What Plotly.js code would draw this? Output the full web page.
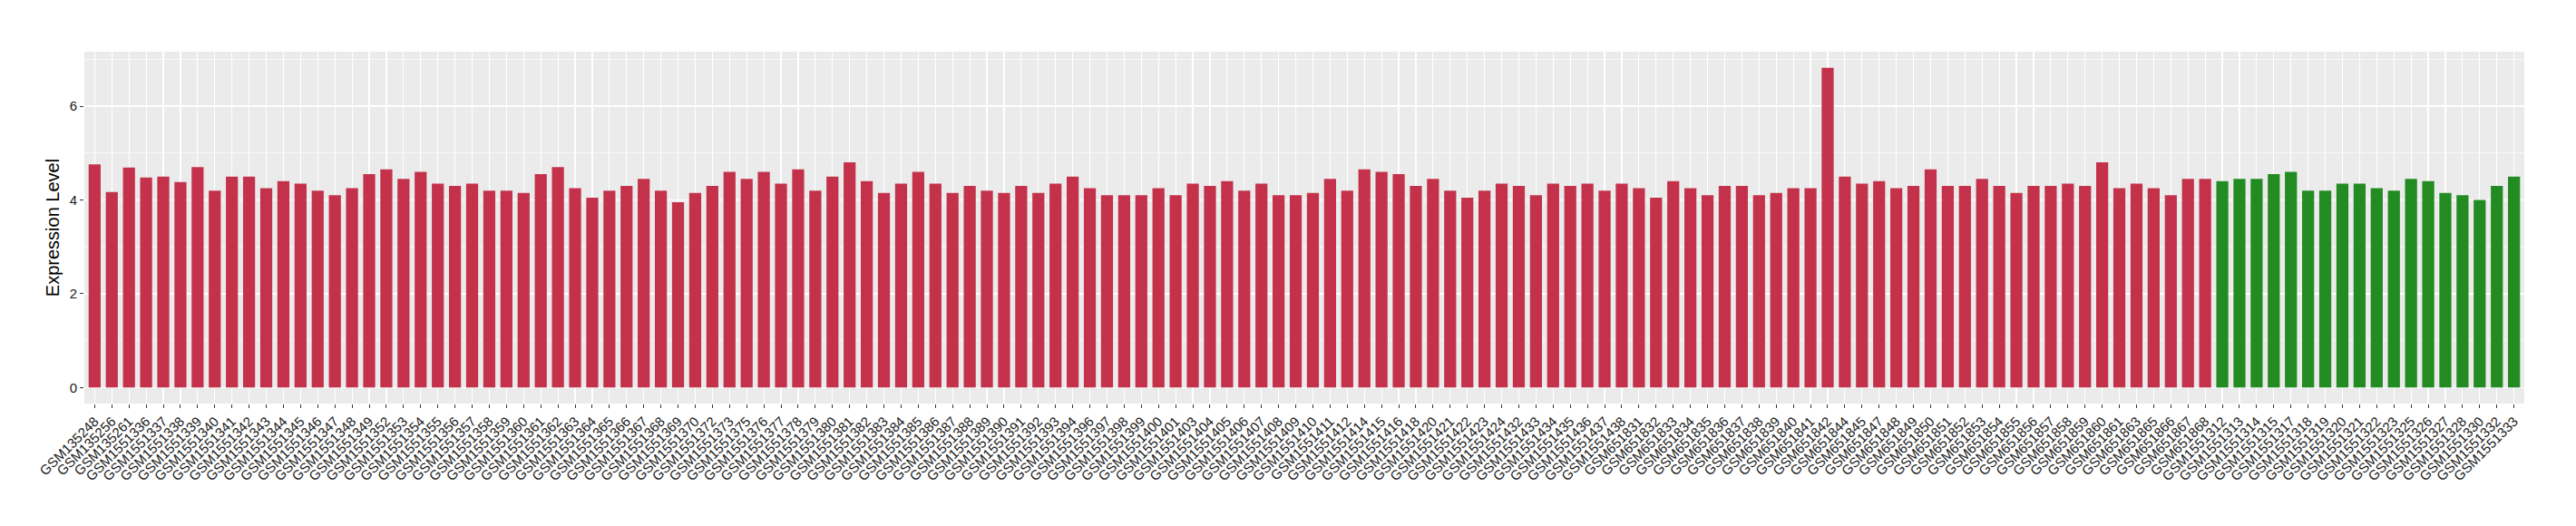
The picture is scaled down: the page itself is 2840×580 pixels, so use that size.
<!DOCTYPE html>
<html>
<head>
<meta charset="utf-8">
<script src="https://cdn.plot.ly/plotly-3.0.1.min.js"></script>
<style>html,body{margin:0;padding:0;background:#fff;}#chart{width:2840px;height:580px;}</style>
</head>
<body>
<div id="chart"></div>
<script>
const samples = [
"GSM135248","GSM135256","GSM135261","GSM1551336","GSM1551337","GSM1551338","GSM1551339","GSM1551340","GSM1551341","GSM1551342",
"GSM1551343","GSM1551344","GSM1551345","GSM1551346","GSM1551347","GSM1551348","GSM1551349","GSM1551352","GSM1551353","GSM1551354",
"GSM1551355","GSM1551356","GSM1551357","GSM1551358","GSM1551359","GSM1551360","GSM1551361","GSM1551362","GSM1551363","GSM1551364",
"GSM1551365","GSM1551366","GSM1551367","GSM1551368","GSM1551369","GSM1551370","GSM1551372","GSM1551373","GSM1551375","GSM1551376",
"GSM1551377","GSM1551378","GSM1551379","GSM1551380","GSM1551381","GSM1551382","GSM1551383","GSM1551384","GSM1551385","GSM1551386",
"GSM1551387","GSM1551388","GSM1551389","GSM1551390","GSM1551391","GSM1551392","GSM1551393","GSM1551394","GSM1551396","GSM1551397",
"GSM1551398","GSM1551399","GSM1551400","GSM1551401","GSM1551403","GSM1551404","GSM1551405","GSM1551406","GSM1551407","GSM1551408",
"GSM1551409","GSM1551410","GSM1551411","GSM1551412","GSM1551414","GSM1551415","GSM1551416","GSM1551418","GSM1551420","GSM1551421",
"GSM1551422","GSM1551423","GSM1551424","GSM1551432","GSM1551433","GSM1551434","GSM1551435","GSM1551436","GSM1551437","GSM1551438",
"GSM651831","GSM651832","GSM651833","GSM651834","GSM651835","GSM651836","GSM651837","GSM651838","GSM651839","GSM651840",
"GSM651841","GSM651842","GSM651844","GSM651845","GSM651847","GSM651848","GSM651849","GSM651850","GSM651851","GSM651852",
"GSM651853","GSM651854","GSM651855","GSM651856","GSM651857","GSM651858","GSM651859","GSM651860","GSM651861","GSM651863",
"GSM651865","GSM651866","GSM651867","GSM651868",
"GSM1551312","GSM1551313","GSM1551314","GSM1551315","GSM1551317","GSM1551318","GSM1551319","GSM1551320","GSM1551321","GSM1551322",
"GSM1551323","GSM1551325","GSM1551326","GSM1551327","GSM1551328","GSM1551330","GSM1551332","GSM1551333"
];
const expression = [
4.76,4.17,4.69,4.48,4.50,4.38,4.70,4.20,4.50,4.50,
4.25,4.40,4.35,4.20,4.10,4.25,4.55,4.65,4.45,4.60,
4.35,4.30,4.35,4.20,4.20,4.15,4.55,4.70,4.25,4.05,
4.20,4.30,4.45,4.20,3.95,4.15,4.30,4.60,4.45,4.60,
4.35,4.65,4.20,4.50,4.80,4.40,4.15,4.35,4.60,4.35,
4.15,4.30,4.20,4.15,4.30,4.15,4.35,4.50,4.25,4.10,
4.10,4.10,4.25,4.10,4.35,4.30,4.40,4.20,4.35,4.10,
4.10,4.15,4.45,4.20,4.65,4.60,4.55,4.30,4.45,4.20,
4.05,4.20,4.35,4.30,4.10,4.35,4.30,4.35,4.20,4.35,
4.25,4.05,4.40,4.25,4.10,4.30,4.30,4.10,4.15,4.25,
4.25,6.82,4.50,4.35,4.40,4.25,4.30,4.65,4.30,4.30,
4.45,4.30,4.15,4.30,4.30,4.35,4.30,4.80,4.25,4.35,
4.25,4.10,4.45,4.45,
4.40,4.45,4.45,4.55,4.60,4.20,4.20,4.35,4.35,4.25,
4.20,4.45,4.40,4.15,4.10,4.00,4.30,4.50
];
const groups = samples.map((s, i) => i < 124 ? "A" : "B");
const groupColors = {A: "#C3324A", B: "#228B22"};

const trace = {
  type: "bar",
  x: samples,
  y: expression,
  width: 0.7,
  marker: {color: groups.map(g => groupColors[g]), line: {width: 0}},
  hoverinfo: "x+y"
};

const layout = {
  width: 2840, height: 580,
  margin: {l: 93, r: 57, t: 57, b: 135, pad: 0},
  paper_bgcolor: "#ffffff",
  plot_bgcolor: "#EBEBEB",
  showlegend: false,
  font: {family: "Liberation Sans, Arial, sans-serif", color: "#1A1A1A"},
  bargap: 0.3,
  xaxis: {
    type: "category",
    range: [-0.6, samples.length - 0.4],
    tickangle: -45,
    tickfont: {size: 15, color: "#1A1A1A"},
    ticks: "outside", ticklen: 4, tickcolor: "#333333", tickwidth: 1,
    showgrid: true, gridcolor: "#ffffff", gridwidth: 1.2,
    zeroline: false, showline: false, automargin: false
  },
  yaxis: {
    range: [-0.341, 7.161],
    tickvals: [0, 2, 4, 6],
    ticktext: ["0", "2", "4", "6"],
    tickfont: {size: 15, color: "#1A1A1A"},
    ticks: "outside", ticklen: 4, tickcolor: "#333333", tickwidth: 1,
    showgrid: true, gridcolor: "#ffffff", gridwidth: 1.2,
    minor: {tickvals: [1, 3, 5, 7], showgrid: true, gridcolor: "#ffffff", gridwidth: 0.6, ticks: ""},
    zeroline: false, showline: false, automargin: false,
    title: {text: "Expression Level", font: {size: 20, color: "#000000"}, standoff: 5}
  }
};

Plotly.newPlot("chart", [trace], layout, {displayModeBar: false, staticPlot: true});
</script>
</body>
</html>
